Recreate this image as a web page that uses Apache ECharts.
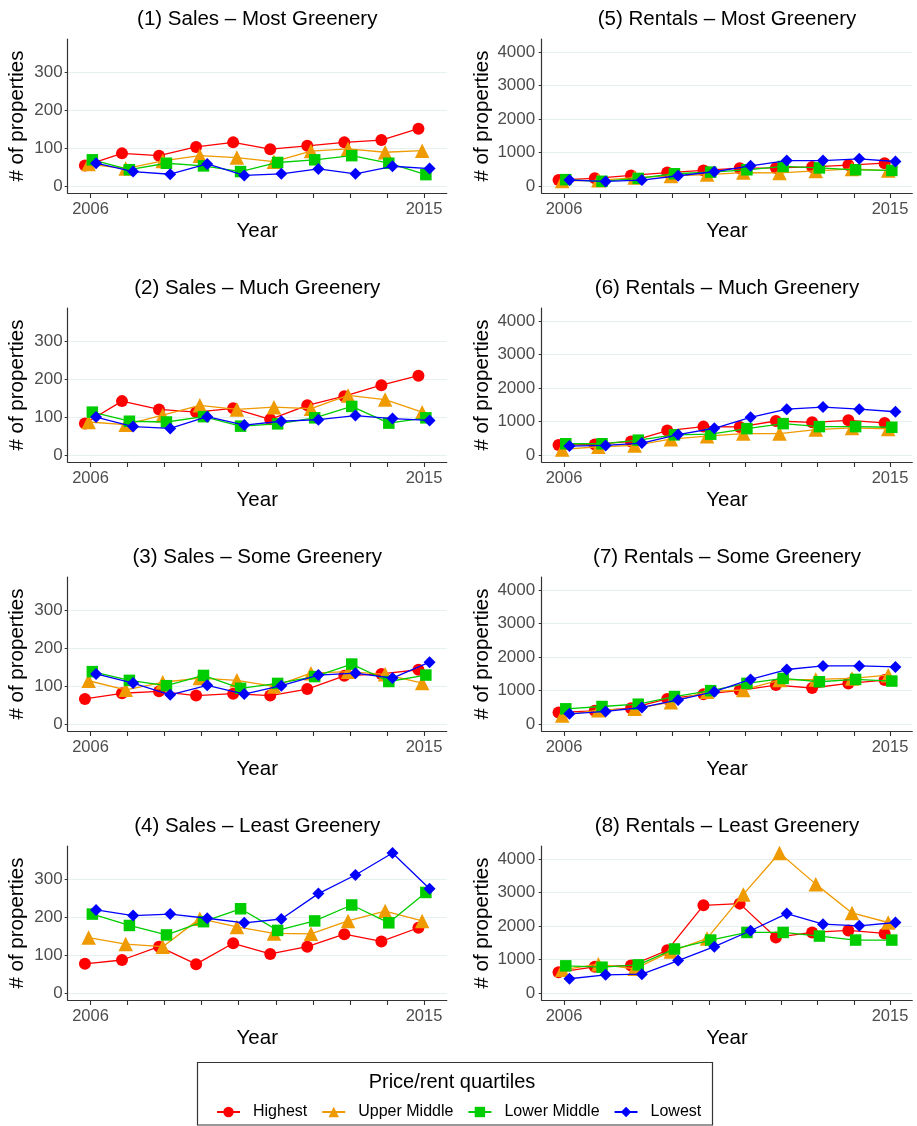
<!DOCTYPE html>
<html><head><meta charset="utf-8">
<script src="https://cdn.jsdelivr.net/npm/echarts@6/dist/echarts.min.js"></script>
<style>html,body{margin:0;padding:0;background:#fff}#c{width:917px;height:1126px}</style>
</head><body><div id="c"></div><script>
const years = [2006, 2007, 2008, 2009, 2010, 2011, 2012, 2013, 2014, 2015];
const quartiles = ['Highest', 'Upper Middle', 'Lower Middle', 'Lowest'];
const xTickLabels = [2006, 2015];
const salesTicks = [0, 100, 200, 300];
const rentalTicks = [0, 1000, 2000, 3000, 4000];
const panelTitles = [
  '(1) Sales \u2013 Most Greenery', '(2) Sales \u2013 Much Greenery',
  '(3) Sales \u2013 Some Greenery', '(4) Sales \u2013 Least Greenery',
  '(5) Rentals \u2013 Most Greenery', '(6) Rentals \u2013 Much Greenery',
  '(7) Rentals \u2013 Some Greenery', '(8) Rentals \u2013 Least Greenery'
];

// rows: Highest, Upper Middle, Lower Middle, Lowest
const salesMost = [
  [54, 86, 80, 103, 115, 97, 106, 115, 121, 151],
  [58, 46, 66, 80, 75, 64, 92, 98, 89, 93],
  [69, 43, 60, 53, 38, 62, 69, 80, 60, 30],
  [60, 38, 31, 58, 28, 32, 45, 32, 52, 46]
];
const salesMuch = [
  [83, 142, 120, 113, 123, 94, 131, 155, 184, 209],
  [87, 80, 105, 131, 120, 126, 122, 157, 146, 113],
  [113, 89, 87, 101, 76, 82, 98, 128, 84, 98],
  [100, 75, 70, 101, 79, 89, 93, 104, 96, 91]
];
const salesSome = [
  [66, 81, 86, 75, 80, 75, 92, 127, 132, 143],
  [114, 90, 110, 121, 115, 99, 134, 138, 131, 108],
  [138, 115, 101, 128, 94, 107, 125, 158, 112, 129],
  [132, 108, 77, 102, 79, 101, 129, 134, 121, 163]
];
const salesLeast = [
  [77, 87, 122, 76, 131, 103, 122, 155, 136, 172],
  [146, 129, 122, 196, 174, 157, 156, 190, 216, 190],
  [208, 178, 153, 188, 222, 165, 190, 232, 185, 265],
  [219, 204, 208, 197, 185, 195, 262, 311, 369, 275]
];
const rentalsMost = [
  [180, 230, 316, 400, 464, 533, 540, 570, 625, 681],
  [150, 170, 250, 300, 340, 400, 390, 450, 510, 460],
  [190, 140, 227, 365, 415, 484, 583, 540, 484, 464],
  [178, 138, 178, 306, 425, 602, 760, 760, 810, 731]
];
const rentalsMuch = [
  [296, 315, 404, 729, 847, 837, 1015, 975, 1034, 956],
  [167, 246, 286, 473, 562, 640, 640, 759, 808, 778],
  [335, 335, 443, 601, 621, 788, 936, 847, 847, 828],
  [266, 286, 355, 611, 798, 1123, 1369, 1429, 1369, 1291]
];
const rentalsSome = [
  [345, 394, 473, 749, 887, 1005, 1163, 1074, 1212, 1310],
  [256, 414, 453, 650, 966, 1015, 1310, 1330, 1360, 1458],
  [453, 522, 591, 818, 995, 1212, 1360, 1261, 1330, 1281],
  [305, 374, 493, 719, 966, 1330, 1626, 1734, 1734, 1704]
];
const rentalsLeast = [
  [622, 780, 820, 1274, 2617, 2667, 1659, 1807, 1867, 1778],
  [691, 859, 721, 1235, 1630, 2943, 4178, 3249, 2390, 2104],
  [810, 770, 840, 1314, 1580, 1807, 1807, 1699, 1580, 1580],
  [425, 543, 563, 968, 1383, 1857, 2370, 2054, 2005, 2104]
];

const panels = [salesMost, salesMuch, salesSome, salesLeast,
                rentalsMost, rentalsMuch, rentalsSome, rentalsLeast];

const FONT = 'Liberation Sans, Arial, sans-serif';
const colors = ['#FF0000', '#EE9A00', '#00CD00', '#0000FF'];
const symbols = ['circle', 'triangle', 'rect', 'diamond'];
const symbolSizes = [12, 14.5, 11.5, 12];
const dodge = [-0.15, -0.05, 0.05, 0.15];

function maxOf(list) { return Math.max.apply(null, list.map(r => Math.max.apply(null, r))); }
const salesMax = Math.max.apply(null, panels.slice(0, 4).map(maxOf));
const rentalsMax = Math.max.apply(null, panels.slice(4).map(maxOf));

const rowTops = [39, 308, 577, 846];
const plotH = 154;
const colLeft = [67.7, 541.7];
const colWidth = [379.1, 370.6];
const xSpan = years[9] - years[0] + dodge[3] - dodge[0];
const xMin = years[0] + dodge[0] - 0.05 * xSpan;
const xMax = years[9] + dodge[3] + 0.05 * xSpan;
const plain = v => String(v);

const grids = [], xAxes = [], yAxes = [], series = [], graphics = [];
panels.forEach((panel, p) => {
  const col = p < 4 ? 0 : 1;
  const row = p % 4;
  const dmax = col === 0 ? salesMax : rentalsMax;
  const yTicks = col === 0 ? salesTicks : rentalTicks;
  grids.push({ left: colLeft[col], top: rowTops[row], width: colWidth[col], height: plotH });
  xAxes.push({
    gridIndex: p, type: 'value', min: xMin, max: xMax,
    name: 'Year', nameLocation: 'middle', nameGap: 28,
    nameTextStyle: { fontSize: 20.5, color: '#000', fontFamily: FONT },
    axisLine: { show: true, onZero: false, lineStyle: { color: '#333', width: 1.2 } },
    axisTick: { show: true, length: 5, customValues: years, lineStyle: { color: '#333', width: 1.1 } },
    axisLabel: { customValues: xTickLabels, formatter: plain, margin: 8, fontSize: 16.5, color: '#4D4D4D', fontFamily: FONT },
    splitLine: { show: false }
  });
  yAxes.push({
    gridIndex: p, type: 'value', min: -0.05 * dmax, max: 1.05 * dmax,
    name: '# of properties', nameLocation: 'middle', nameGap: col === 0 ? 40 : 49,
    nameTextStyle: { fontSize: 20.5, color: '#000', fontFamily: FONT },
    axisLine: { show: true, onZero: false, lineStyle: { color: '#333', width: 1.2 } },
    axisTick: { show: true, length: 3, customValues: yTicks, lineStyle: { color: '#333', width: 1 } },
    axisLabel: { customValues: yTicks, formatter: plain, margin: col === 0 ? 5 : 6.5, fontSize: 17, color: '#4D4D4D', fontFamily: FONT },
    splitLine: { show: true, lineStyle: { color: '#E6F0F0', width: 1 } }
  });
  panel.forEach((vals, q) => {
    series.push({
      name: quartiles[q], type: 'line', xAxisIndex: p, yAxisIndex: p,
      data: vals.map((v, i) => [years[i] + dodge[q], v]),
      symbol: symbols[q], symbolSize: symbolSizes[q], showAllSymbol: true,
      itemStyle: { color: colors[q] },
      lineStyle: { color: colors[q], width: 1.3 },
      emphasis: { disabled: true }, animation: false, z: 2 + q
    });
  });
  graphics.push({
    type: 'text', x: colLeft[col] + colWidth[col] / 2, y: rowTops[row] - 20,
    style: { text: panelTitles[p], align: 'center', verticalAlign: 'middle',
             fontSize: 20.5, fontFamily: FONT, fill: '#000' }
  });
});

graphics.push({
  type: 'rect', shape: { x: 197.5, y: 1062.5, width: 515, height: 62.5 },
  style: { fill: 'none', stroke: '#333', lineWidth: 1.2 }
});
graphics.push({
  type: 'text', x: 452, y: 1082,
  style: { text: 'Price/rent quartiles', align: 'center', verticalAlign: 'middle',
           fontSize: 20, fontFamily: FONT, fill: '#000' }
});

const chart = echarts.init(document.getElementById('c'), null, { renderer: 'canvas' });
chart.setOption({
  animation: false,
  backgroundColor: '#fff',
  grid: grids, xAxis: xAxes, yAxis: yAxes, series: series,
  legend: {
    data: quartiles, left: 211, top: 1099, itemWidth: 23, itemHeight: 13, itemGap: 14,
    selectedMode: false,
    textStyle: { fontSize: 16, color: '#000', fontFamily: FONT, padding: [0, 0, 0, 8] }
  },
  graphic: graphics
});
</script></body></html>
